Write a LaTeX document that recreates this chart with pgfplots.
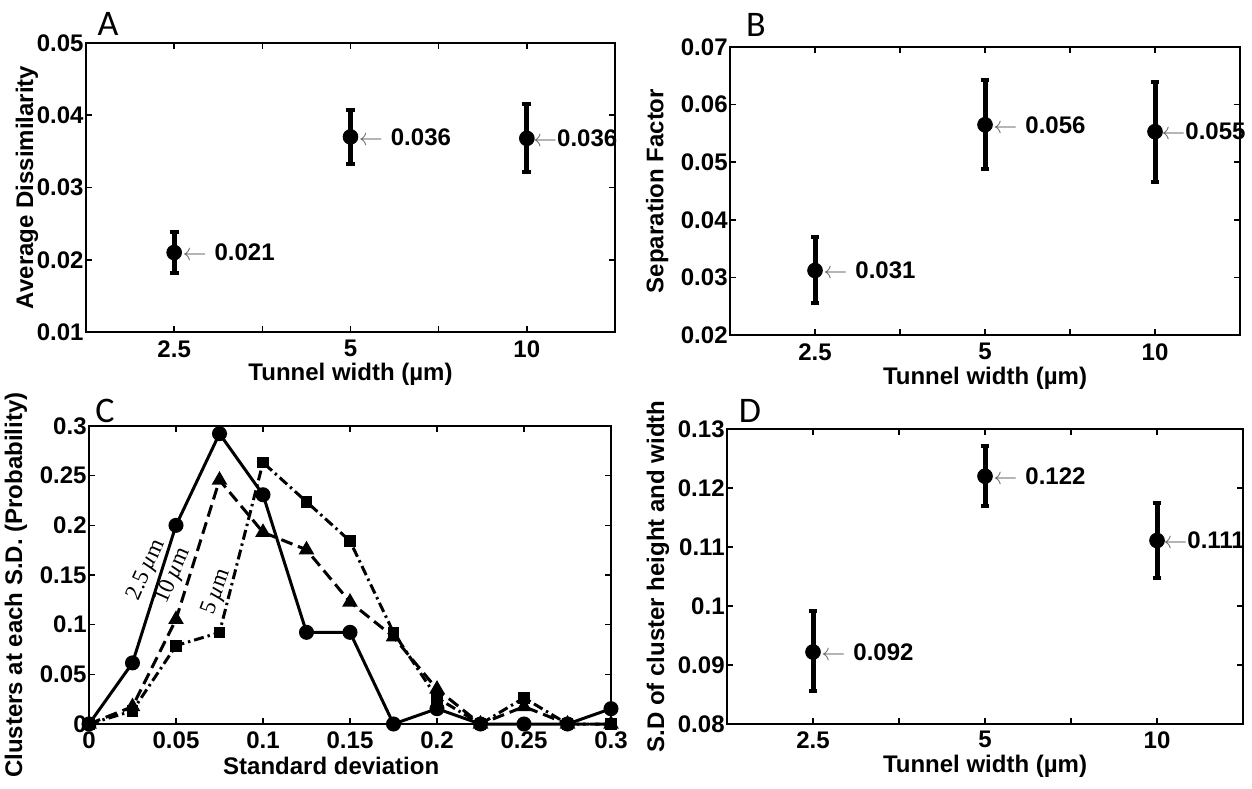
\documentclass[border=0pt]{standalone}
\usepackage{pgfplots}
\pgfplotsset{compat=1.18}
\usepackage{pgfplotstable}
\usepackage{fontspec}
\setmainfont{Liberation Sans}
\newfontfamily\carlito{Carlito}
\newfontfamily\lserif{Liberation Serif}

\pgfplotstableread{
x y ep em
1 0.0210 0.0029 0.0029
2 0.0370 0.0037 0.0038
3 0.0368 0.0047 0.0047
}\dataA
\pgfplotstableread{
x y ep em
1 0.0312 0.0059 0.0057
2 0.0565 0.0077 0.0076
3 0.0553 0.0087 0.0087
}\dataB
\pgfplotstableread{
x y ep em
1 0.0922 0.0069 0.0066
2 0.1220 0.0052 0.0050
3 0.1111 0.0063 0.0064
}\dataD
\pgfplotstableread{
x a b c
0     0      0      0
0.025 0.0615 0.0175 0.0132
0.05  0.2000 0.1053 0.0789
0.075 0.2923 0.2456 0.0921
0.1   0.2308 0.1930 0.2632
0.125 0.0923 0.1754 0.2237
0.15  0.0923 0.1228 0.1842
0.175 0      0.0877 0.0921
0.2   0.0154 0.0351 0.0263
0.225 0      0      0
0.25  0      0.0175 0.0263
0.275 0      0      0
0.3   0.0154 0      0
}\dataC

\pgfplotsset{
  panel/.style={
    scale only axis, clip=false,
    scaled x ticks=false, scaled y ticks=false,
    axis line style={line width=1pt},
    tick style={line width=0.8pt, black},
    major tick length=3pt, minor tick length=3pt,
    tick align=inside,
    tick label style={font=\bfseries\fontsize{12}{13}\selectfont},
    label style={font=\bfseries\fontsize{12}{14}\selectfont, inner sep=0pt},
    yticklabel style={inner xsep=1pt},
    xticklabel style={inner sep=0pt, yshift=-4pt},
  },
  tunnel/.style={
    panel, xmin=0.5, xmax=3.5,
    xtick={1,2,3}, xticklabels={2.5,5,10},
    minor xtick={1.5,2.5},
    xlabel={Tunnel width (µm)},
  },
  ebar/.style={
    black, only marks, mark=*, mark size=3.7pt, mark options={fill=black},
    error bars/.cd, y dir=both, y explicit,
    error bar style={line width=2.5pt, black},
    error mark options={rotate=90, mark size=2.2pt, line width=2pt, black},
  },
}
\tikzset{ann/.style={anchor=west, inner sep=0pt, font=\bfseries\fontsize{12}{13}\selectfont}}
\newcommand{\arr}{\textcolor{black!60}{$\leftarrow$}}

\begin{document}
\begin{tikzpicture}[x=1pt,y=1pt]
\useasboundingbox (0,0) rectangle (626,394);

% Panel A
\begin{axis}[tunnel, at={(43pt,228pt)}, anchor=south west, width=264.5pt, height=144.5pt,
  ymin=0.01, ymax=0.05, ytick={0.01,0.02,0.03,0.04,0.05},
  yticklabels={0.01,0.02,0.03,0.04,0.05},
  ylabel={Average Dissimilarity},
  ylabel style={at={(axis description cs:-0.1115,0.5)}, anchor=center},
  xlabel style={at={(axis description cs:0.5,0)}, anchor=north, yshift=-15.5pt}]
\addplot[ebar] table[x=x, y=y, y error plus=ep, y error minus=em]{\dataA};
\node[ann] at (axis cs:1,0.0210) {\hspace*{4pt}\arr\hspace{4pt}0.021};
\node[ann] at (axis cs:2,0.0370) {\hspace*{4pt}\arr\hspace{4pt}0.036};
\node[ann] at (axis cs:3,0.0368) {\hspace*{3pt}\arr0.036};
\end{axis}

% Panel B
\begin{axis}[tunnel, at={(365pt,226.5pt)}, anchor=south west, width=255pt, height=144pt,
  ymin=0.02, ymax=0.07, ytick={0.02,0.03,0.04,0.05,0.06,0.07},
  yticklabels={0.02,0.03,0.04,0.05,0.06,0.07},
  ylabel={Separation Factor},
  ylabel style={at={(axis description cs:-0.143,0.5)}, anchor=center},
  xlabel style={at={(axis description cs:0.5,0)}, anchor=north, yshift=-16pt}]
\addplot[ebar] table[x=x, y=y, y error plus=ep, y error minus=em]{\dataB};
\node[ann] at (axis cs:1,0.0312) {\hspace*{4pt}\arr\hspace{4pt}0.031};
\node[ann] at (axis cs:2,0.0565) {\hspace*{4pt}\arr\hspace{4pt}0.056};
\node[ann] at (axis cs:3,0.0553) {\hspace*{3pt}\arr0.055};
\end{axis}

% Panel C
\begin{axis}[panel, at={(44.5pt,32pt)}, anchor=south west, width=261pt, height=149pt,
  xmin=0, xmax=0.3, ymin=0, ymax=0.3,
  xtick={0,0.05,0.1,0.15,0.2,0.25,0.3},
  xticklabels={0,0.05,0.1,0.15,0.2,0.25,0.3},
  ytick={0,0.05,0.1,0.15,0.2,0.25,0.3},
  yticklabels={0,0.05,0.1,0.15,0.2,0.25,0.3},
  xticklabel style={yshift=0.5pt},
  xlabel={Standard deviation},
  xlabel style={at={(axis description cs:0.464,0)}, anchor=north, yshift=-16.5pt},
  ylabel={Clusters at each S.D. (Probability)},
  ylabel style={at={(axis description cs:-0.14,0.466)}, anchor=center}]
\addplot[black, line width=1.5pt, mark=*, mark size=3pt] table[x=x, y=a]{\dataC};
\addplot[black, line width=1.5pt, dash pattern=on 6pt off 3pt, mark=triangle*, mark size=3pt, mark options={solid}] table[x=x, y=b]{\dataC};
\addplot[black, line width=1.5pt, dash pattern=on 5pt off 2pt on 1.2pt off 2pt, mark=square*, mark size=2.2pt, mark options={solid}] table[x=x, y=c]{\dataC};
\node[rotate=66, inner sep=0pt, font=\lserif\fontsize{11.5}{11.5}\selectfont] at (axis cs:0.0333,0.155) {2.5\,\textit{µ}m};
\node[rotate=66, inner sep=0pt, font=\lserif\fontsize{11.5}{11.5}\selectfont] at (axis cs:0.0486,0.149) {10\,\textit{µ}m};
\node[rotate=70, inner sep=0pt, font=\lserif\fontsize{11.5}{11.5}\selectfont] at (axis cs:0.0736,0.133) {5\,\textit{µ}m};
\end{axis}

% Panel D
\begin{axis}[tunnel, at={(363.5pt,32pt)}, anchor=south west, width=258pt, height=147.5pt,
  ymin=0.08, ymax=0.13, ytick={0.08,0.09,0.1,0.11,0.12,0.13},
  yticklabels={0.08,0.09,0.1,0.11,0.12,0.13},
  xticklabel style={yshift=0.5pt},
  ylabel={S.D of cluster height and width},
  ylabel style={at={(axis description cs:-0.134,0.5)}, anchor=center},
  xlabel style={at={(axis description cs:0.5,0)}, anchor=north, yshift=-15.5pt}]
\addplot[ebar] table[x=x, y=y, y error plus=ep, y error minus=em]{\dataD};
\node[ann] at (axis cs:1,0.0922) {\hspace*{4pt}\arr\hspace{4pt}0.092};
\node[ann] at (axis cs:2,0.1220) {\hspace*{4pt}\arr\hspace{4pt}0.122};
\node[ann] at (axis cs:3,0.1111) {\hspace*{3pt}\arr0.111};
\end{axis}

% Panel letters
\node[font=\carlito\fontsize{18}{18}\selectfont, inner sep=0pt] at (54,382) {A};
\node[font=\carlito\fontsize{18}{18}\selectfont, inner sep=0pt] at (378,381.5) {B};
\node[font=\carlito\fontsize{18}{18}\selectfont, inner sep=0pt] at (52.5,188.5) {C};
\node[font=\carlito\fontsize{18}{18}\selectfont, inner sep=0pt] at (375,188.5) {D};
\end{tikzpicture}
\end{document}
